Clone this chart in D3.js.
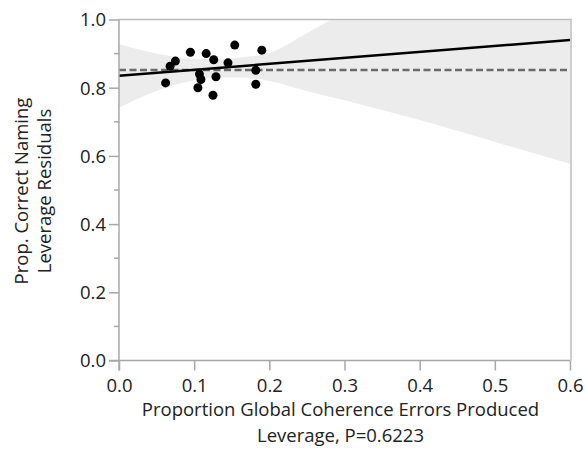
<!DOCTYPE html>
<html lang="en">
<head>
	<meta charset="utf-8">
	<title>leverage plot</title>
	<script src="https://d3js.org/d3.v7.min.js"></script>
	<style>
		body{ margin:0; background:#fff; }
		.lbl{ font-family:"Open Sans","Noto Sans",sans-serif; fill:#222; }
	</style>
</head>
<body>
<div id="chart"></div>
<script>
// points
let xs=[0.062,0.068,0.075,0.095,0.116,0.126,0.107,0.109,0.105,0.129,0.125,0.145,0.154,0.182,0.182,0.190];
let ys=[0.814,0.863,0.878,0.904,0.900,0.882,0.840,0.824,0.800,0.832,0.778,0.873,0.925,0.851,0.810,0.910];
// fit line ends and mean line
let fitX=[0,0.6];
let fitY=[0.835,0.940];
let meanY=0.852;
// confidence band edges
let bandX=[0,0.05,0.1,0.13,0.16,0.2,0.25,0.3,0.4,0.5,0.6];
let bandHi=[0.928,0.900,0.884,0.883,0.888,0.902,0.96,1.02,1.11,1.2,1.3];
let bandLo=[0.741,0.790,0.822,0.830,0.830,0.820,0.79,0.763,0.705,0.641,0.577];
let xTicks=[0,0.1,0.2,0.3,0.4,0.5,0.6];
let yTicks=[0,0.2,0.4,0.6,0.8,1.0];
let yMinor=[0.1,0.3,0.5,0.7,0.9];

let W=585,H=451;
let L=119,R=570,T=19.5,B=360.5;
let fs=18.5;

let svg=d3.select("#chart").append("svg").attr("width",W).attr("height",H);
let x=d3.scaleLinear().domain([0,0.6]).range([L,R]);
let y=d3.scaleLinear().domain([0,1]).range([B,T]);

svg.append("clipPath").attr("id","clip")
	.append("rect").attr("x",L).attr("y",T).attr("width",R-L).attr("height",B-T);

let plot=svg.append("g").attr("clip-path","url(#clip)");

let area=d3.area()
	.x((d,i)=>x(bandX[i]))
	.y0((d,i)=>y(bandLo[i]))
	.y1((d,i)=>y(bandHi[i]))
	.curve(d3.curveMonotoneX);
plot.append("path").datum(bandX).attr("d",area).attr("fill","#ececec");

plot.append("line")
	.attr("x1",x(0)).attr("x2",x(0.6))
	.attr("y1",y(meanY)).attr("y2",y(meanY))
	.attr("stroke","#6a6a6a").attr("stroke-width",2.5).attr("stroke-dasharray","7,3.5");

plot.append("line")
	.attr("x1",x(fitX[0])).attr("x2",x(fitX[1]))
	.attr("y1",y(fitY[0])).attr("y2",y(fitY[1]))
	.attr("stroke","#000").attr("stroke-width",2.5);

plot.selectAll("circle").data(xs).enter().append("circle")
	.attr("cx",(d)=>x(d))
	.attr("cy",(d,i)=>y(ys[i]))
	.attr("r",4.5)
	.attr("fill","#000");

// frame
svg.append("path")
	.attr("d","M"+L+","+T+"H"+(R+1)+"V"+B)
	.attr("fill","none").attr("stroke","#bdbdbd").attr("stroke-width",1.5);

// axes
let yAxis=d3.axisLeft(y).tickValues(yTicks).tickFormat(d3.format(".1f")).tickSize(10).tickPadding(4);
let gy=svg.append("g").attr("transform","translate("+L+",0)").call(yAxis);
svg.append("g").selectAll("line").data(yMinor).enter().append("line")
	.attr("x1",L-5).attr("x2",L).attr("y1",(d)=>y(d)).attr("y2",(d)=>y(d))
	.attr("stroke","#a8a8a8").attr("stroke-width",1.5);

let xAxis=d3.axisBottom(x).tickValues(xTicks).tickFormat(d3.format(".1f")).tickSize(10).tickPadding(4);
let gx=svg.append("g").attr("transform","translate(0,"+B+")").call(xAxis);

[gx,gy].forEach((g)=>{
	g.select(".domain").remove();
	g.selectAll(".tick line").attr("stroke","#a8a8a8").attr("stroke-width",1.5);
	g.selectAll(".tick text").attr("class","lbl").attr("font-size",fs).attr("fill","#222");
});
gx.selectAll(".tick text").attr("dy",null).attr("y",31);
gy.selectAll(".tick text").attr("dy","0.35em").attr("x",-13);

svg.append("line").attr("x1",L).attr("x2",L).attr("y1",T).attr("y2",B+10)
	.attr("stroke","#a8a8a8").attr("stroke-width",1.5);
svg.append("line").attr("x1",L-10).attr("x2",R).attr("y1",B).attr("y2",B)
	.attr("stroke","#a8a8a8").attr("stroke-width",1.5);

// titles
svg.append("text").attr("class","lbl").attr("x",(L+R)/2-4).attr("y",416)
	.attr("text-anchor","middle").attr("font-size",fs).text("Proportion Global Coherence Errors Produced");
svg.append("text").attr("class","lbl").attr("x",(L+R)/2-4).attr("y",442)
	.attr("text-anchor","middle").attr("font-size",fs).text("Leverage, P=0.6223");
let yt=svg.append("text").attr("class","lbl").attr("font-size",fs)
	.attr("text-anchor","middle").attr("transform","translate(28,191) rotate(-90)");
yt.append("tspan").attr("x",0).attr("y",0).text("Prop. Correct Naming");
yt.append("tspan").attr("x",0).attr("y",23).text("Leverage Residuals");
</script>
</body>
</html>
